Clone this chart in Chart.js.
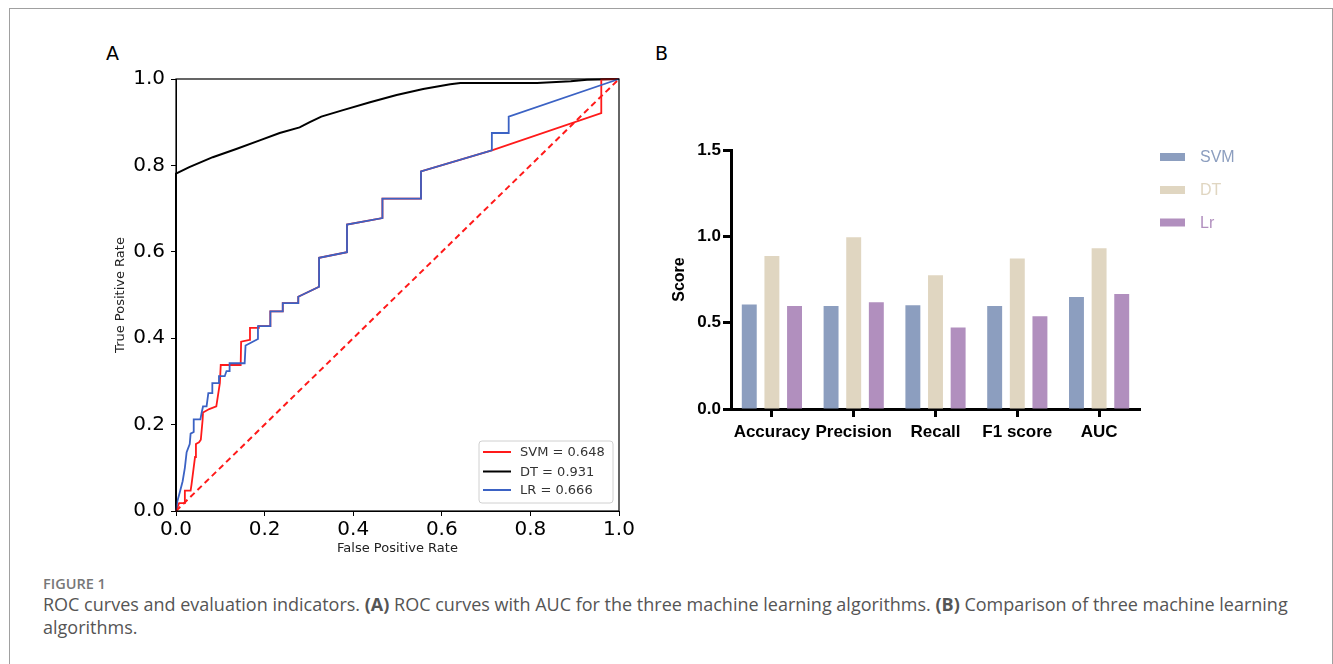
<!DOCTYPE html>
<html>
<head>
<meta charset="utf-8">
<script src="https://cdn.jsdelivr.net/npm/chart.js@4.4.0/dist/chart.umd.min.js"></script>
<style>
  body { margin: 0; background: #fff; }
  #frame { position: absolute; left: 9px; top: 8px; width: 1322px; height: 700px;
           border: 1.5px solid #a0a0a0; border-bottom: none; }
  .panel { position: absolute; font-family: "DejaVu Sans", sans-serif; font-size: 19px; color: #000; line-height: 19px; }
  #rocWrap { position: absolute; left: 100px; top: 60px; width: 540px; height: 500px; }
  #barWrap { position: absolute; left: 655px; top: 130px; width: 600px; height: 330px; }
  #fig { position: absolute; left: 43px; top: 574px; font-family: "Open Sans", sans-serif;
         font-size: 14.5px; font-weight: 600; color: #777; }
  #cap { position: absolute; left: 43px; top: 593px; width: 1262px; font-family: "Open Sans", sans-serif;
         font-size: 18px; line-height: 23px; color: #555; }
  #cap b { color: #555; }
</style>
</head>
<body>
<div id="frame"></div>
<div class="panel" style="left:106px; top:44px;">A</div>
<div class="panel" style="left:655px; top:44px;">B</div>
<div id="rocWrap"><canvas id="roc" width="540" height="500"></canvas></div>
<div id="barWrap"><canvas id="bars" width="600" height="330"></canvas></div>
<div id="fig">FIGURE 1</div>
<div id="cap">ROC curves and evaluation indicators. <b>(A)</b> ROC curves with AUC for the three machine learning algorithms. <b>(B)</b> Comparison of three machine learning algorithms.</div>

<script>
// ---- panel A: ROC curves ----
var rocNames = ['SVM', 'DT', 'LR'];
var rocAuc = [0.648, 0.931, 0.666];
var rocColors = ['#ff1a1a', '#000000', '#3b62c4'];

var svmFpr = [0, 0.007, 0.02, 0.02, 0.033, 0.035, 0.043, 0.045, 0.052, 0.056, 0.060, 0.061, 0.075, 0.091, 0.099, 0.101, 0.146, 0.147, 0.166, 0.167, 0.187, 0.187, 0.213, 0.213, 0.241, 0.241, 0.276, 0.276, 0.323, 0.323, 0.386, 0.386, 0.466, 0.466, 0.553, 0.553, 0.713, 0.960, 0.960, 1];
var svmTpr = [0, 0.018, 0.018, 0.047, 0.047, 0.061, 0.125, 0.155, 0.159, 0.165, 0.21, 0.228, 0.236, 0.242, 0.296, 0.338, 0.338, 0.392, 0.396, 0.424, 0.424, 0.428, 0.428, 0.462, 0.462, 0.481, 0.481, 0.496, 0.519, 0.586, 0.599, 0.663, 0.678, 0.723, 0.723, 0.786, 0.835, 0.921, 0.999, 1];

var dtFpr = [0, 0, 0.03, 0.083, 0.136, 0.189, 0.234, 0.279, 0.302, 0.328, 0.377, 0.438, 0.498, 0.558, 0.619, 0.642, 0.815, 0.891, 0.928, 1];
var dtTpr = [0, 0.781, 0.796, 0.819, 0.838, 0.858, 0.875, 0.888, 0.9, 0.913, 0.928, 0.946, 0.963, 0.977, 0.988, 0.991, 0.991, 0.995, 0.998, 1];

var lrFpr = [0, 0.003, 0.009, 0.015, 0.02, 0.024, 0.031, 0.033, 0.040, 0.040, 0.055, 0.058, 0.061, 0.069, 0.073, 0.082, 0.082, 0.097, 0.097, 0.11, 0.114, 0.121, 0.121, 0.155, 0.157, 0.17, 0.185, 0.185, 0.213, 0.213, 0.241, 0.241, 0.276, 0.276, 0.323, 0.323, 0.386, 0.386, 0.466, 0.466, 0.553, 0.553, 0.713, 0.713, 0.751, 0.751, 1];
var lrTpr = [0, 0.022, 0.045, 0.069, 0.1, 0.136, 0.155, 0.179, 0.183, 0.212, 0.212, 0.228, 0.242, 0.242, 0.273, 0.273, 0.296, 0.296, 0.312, 0.312, 0.324, 0.324, 0.342, 0.342, 0.383, 0.39, 0.398, 0.428, 0.428, 0.462, 0.462, 0.481, 0.481, 0.496, 0.519, 0.586, 0.599, 0.663, 0.678, 0.723, 0.723, 0.786, 0.835, 0.875, 0.875, 0.913, 1];

var chanceLine = [0, 1];
var rocTicks = [0, 0.2, 0.4, 0.6, 0.8, 1.0];

// ---- panel B: metric bars ----
var metricLabels = ['Accuracy', 'Precision', 'Recall', 'F1 score', 'AUC'];
var svmScores = [0.605, 0.597, 0.601, 0.597, 0.648];
var dtScores = [0.886, 0.994, 0.774, 0.871, 0.931];
var lrScores = [0.597, 0.618, 0.472, 0.537, 0.666];
var barNames = ['SVM', 'DT', 'Lr'];
var barColors = ['#8c9ebf', '#e0d6c1', '#b18fbe'];
var scoreTicks = [0, 0.5, 1.0, 1.5];

function toPoints(xs, ys) {
    return xs.map(function (x, i) { return { x: x, y: ys[i] }; });
}

var rocFont = 'DejaVu Sans';
var barFont = '"Liberation Sans", Arial, sans-serif';

// box around the matplotlib axes
var plotBox = {
    id: 'plotBox',
    afterDraw: function (chart) {
        var a = chart.chartArea, ctx = chart.ctx;
        ctx.save();
        ctx.strokeStyle = '#000';
        ctx.lineWidth = 1.2;
        ctx.strokeRect(a.left, a.top, a.right - a.left, a.bottom - a.top);
        ctx.restore();
    }
};

var rocLegend = {
    id: 'rocLegend',
    afterDraw: function (chart) {
        var a = chart.chartArea, ctx = chart.ctx;
        var w = 134, h = 62;
        var x0 = a.right - 6 - w, y0 = a.bottom - 8 - h;
        ctx.save();
        ctx.fillStyle = 'rgba(255,255,255,0.85)';
        ctx.strokeStyle = '#d0d0d0';
        ctx.lineWidth = 1;
        ctx.beginPath();
        ctx.roundRect(x0, y0, w, h, 3);
        ctx.fill();
        ctx.stroke();
        ctx.font = '13px ' + rocFont;
        ctx.textBaseline = 'middle';
        var rows = [11, 30.5, 49];
        chart.data.datasets.forEach(function (ds, i) {
            if (!ds.label) return;
            ctx.strokeStyle = ds.borderColor;
            ctx.lineWidth = 2;
            ctx.beginPath();
            ctx.moveTo(x0 + 4, y0 + rows[i]);
            ctx.lineTo(x0 + 32, y0 + rows[i]);
            ctx.stroke();
            ctx.fillStyle = '#333';
            ctx.fillText(ds.label, x0 + 41, y0 + rows[i] + 1);
        });
        ctx.restore();
    }
};

var barLegend = {
    id: 'barLegend',
    afterDraw: function (chart) {
        var a = chart.chartArea, ctx = chart.ctx;
        ctx.save();
        ctx.font = '16px ' + barFont;
        ctx.textBaseline = 'middle';
        var rows = [7, 40, 72.5];
        chart.data.datasets.forEach(function (ds, i) {
            var y = a.top + rows[i];
            ctx.fillStyle = ds.backgroundColor;
            ctx.fillRect(a.right + 20, y - 4, 25, 8);
            ctx.fillText(ds.label, a.right + 60, y + 1);
        });
        ctx.restore();
    }
};

new Chart(document.getElementById('roc'), {
    type: 'scatter',
    data: {
        datasets: [
            { label: rocNames[0] + ' = ' + rocAuc[0].toFixed(3), data: toPoints(svmFpr, svmTpr),
              borderColor: rocColors[0], borderWidth: 1.8, order: 2 },
            { label: rocNames[1] + ' = ' + rocAuc[1].toFixed(3), data: toPoints(dtFpr, dtTpr),
              borderColor: rocColors[1], borderWidth: 2, order: 3 },
            { label: rocNames[2] + ' = ' + rocAuc[2].toFixed(3), data: toPoints(lrFpr, lrTpr),
              borderColor: rocColors[2], borderWidth: 1.8, order: 1 },
            { label: '', data: toPoints(chanceLine, chanceLine),
              borderColor: '#ff1a1a', borderWidth: 2, borderDash: [6, 4], order: 0 }
        ]
    },
    options: {
        responsive: false,
        animation: false,
        devicePixelRatio: 1,
        showLine: true,
        elements: { point: { radius: 0 }, line: { tension: 0, fill: false } },
        datasets: { scatter: { clip: 3 } },
        layout: { padding: { top: 19, right: 21, left: 0, bottom: 0 } },
        plugins: { legend: { display: false }, tooltip: { enabled: false } },
        scales: {
            x: {
                type: 'linear', min: 0, max: 1,
                afterBuildTicks: function (s) { s.ticks = rocTicks.map(function (v) { return { value: v }; }); },
                afterFit: function (s) { s.height = 49; },
                grid: { drawOnChartArea: false, drawTicks: true, tickLength: 5, color: '#000' },
                border: { color: '#000', width: 1 },
                ticks: { color: '#000', padding: 2, maxRotation: 0, font: { family: rocFont, size: 20 },
                         callback: function (v) { return v.toFixed(1); } },
                title: { display: true, text: 'False Positive Rate', color: '#222',
                         font: { family: rocFont, size: 13 }, padding: { top: 0, bottom: 4 } }
            },
            y: {
                type: 'linear', min: 0, max: 1,
                afterBuildTicks: function (s) { s.ticks = rocTicks.map(function (v) { return { value: v }; }); },
                afterFit: function (s) { s.width = 76; },
                grid: { drawOnChartArea: false, drawTicks: true, tickLength: 5, color: '#000' },
                border: { color: '#000', width: 1 },
                ticks: { color: '#000', padding: 6, font: { family: rocFont, size: 20 },
                         callback: function (v) { return v.toFixed(1); } },
                title: { display: true, text: 'True Positive Rate', color: '#222',
                         font: { family: rocFont, size: 13 }, padding: { top: 13, bottom: 0 } }
            }
        }
    },
    plugins: [plotBox, rocLegend]
});

new Chart(document.getElementById('bars'), {
    type: 'bar',
    data: {
        labels: metricLabels,
        datasets: [
            { label: barNames[0], data: svmScores, backgroundColor: barColors[0] },
            { label: barNames[1], data: dtScores, backgroundColor: barColors[1] },
            { label: barNames[2], data: lrScores, backgroundColor: barColors[2] }
        ]
    },
    options: {
        responsive: false,
        animation: false,
        devicePixelRatio: 1,
        categoryPercentage: 0.83,
        barPercentage: 0.66,
        layout: { padding: { top: 20, right: 115, left: 0, bottom: 0 } },
        plugins: { legend: { display: false }, tooltip: { enabled: false } },
        scales: {
            x: {
                afterFit: function (s) { s.height = 51; },
                grid: { drawOnChartArea: false, offset: false, drawTicks: true, tickLength: 8,
                        tickWidth: 3, tickColor: '#000' },
                border: { color: '#000', width: 3 },
                ticks: { color: '#000', padding: 5, maxRotation: 0, minRotation: 0, autoSkip: false,
                         font: { family: barFont, size: 17, weight: 'bold' } }
            },
            y: {
                min: 0, max: 1.5,
                afterBuildTicks: function (s) { s.ticks = scoreTicks.map(function (v) { return { value: v }; }); },
                afterFit: function (s) { s.width = 76; },
                grid: { drawOnChartArea: false, drawTicks: true, tickLength: 8, tickWidth: 3, tickColor: '#000' },
                border: { color: '#000', width: 3 },
                ticks: { color: '#000', padding: 2, font: { family: barFont, size: 17, weight: 'bold' },
                         callback: function (v) { return v.toFixed(1); } },
                title: { display: true, text: 'Score', color: '#000',
                         font: { family: barFont, size: 16, weight: 'bold' }, padding: { top: 15, bottom: 0 } }
            }
        }
    },
    plugins: [barLegend]
});
</script>
</body>
</html>
